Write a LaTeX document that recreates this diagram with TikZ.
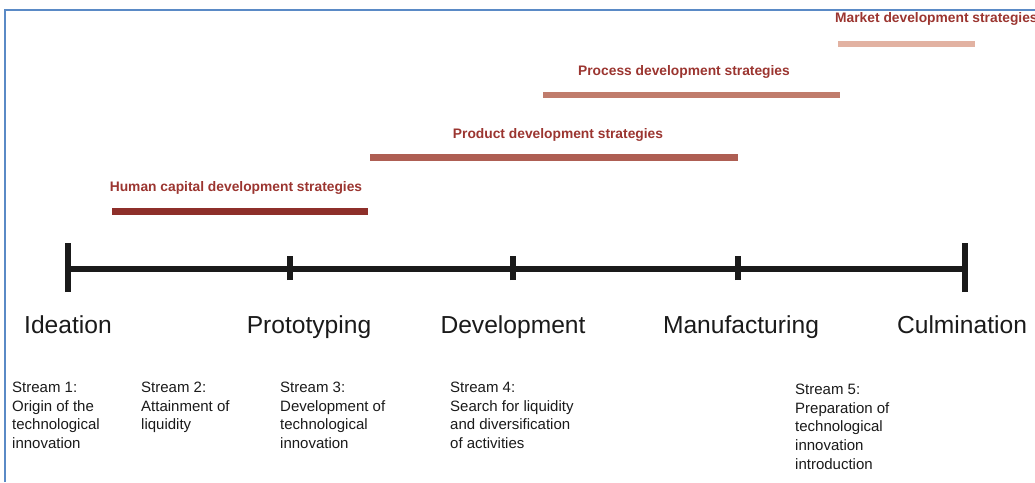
\documentclass[tikz,border=0pt]{standalone}
\usepackage{fontspec}
\setmainfont{Liberation Sans}
\definecolor{frameblue}{HTML}{5A8AC6}
\definecolor{titlered}{HTML}{9B3530}
\definecolor{barA}{HTML}{8E2F2A}
\definecolor{barB}{HTML}{AE5E53}
\definecolor{barC}{HTML}{C07C6C}
\definecolor{barD}{HTML}{E2B2A2}
\definecolor{axis}{HTML}{1A1A1A}
\begin{document}
\begin{tikzpicture}[x=1pt,y=-1pt,
  bar/.style={line width=7pt},
  title/.style={text=titlered,font=\fontsize{13.8}{15}\selectfont\bfseries,inner sep=0pt,anchor=base},
  phase/.style={font=\fontsize{24.6}{27}\selectfont,inner sep=0pt,anchor=base,text=axis},
  stream/.style={font=\fontsize{15}{18.6}\selectfont,inner sep=0pt,anchor=north west,align=left,text=axis},
  axisline/.style={line width=5.5pt,draw=axis},
  bigtick/.style={line width=5.5pt,draw=axis},
  smalltick/.style={line width=5.5pt,draw=axis}]
\useasboundingbox (0,0) rectangle (1035,482);
% frame
\draw[frameblue,line width=1.8pt] (5,482) -- (5,10) -- (1036,10);
% timeline coordinates
\coordinate (t0) at (68,269);
\coordinate (t1) at (290,269);
\coordinate (t2) at (513,269);
\coordinate (t3) at (738,269);
\coordinate (t4) at (965,269);
\draw[axisline] (t0) -- (t4);
\draw[bigtick] ([yshift=-23pt]t0) -- ([yshift=26pt]t0);
\draw[bigtick] ([yshift=-23pt]t4) -- ([yshift=26pt]t4);
\foreach \c in {t1,t2,t3}{\draw[smalltick] ([yshift=-11pt]\c) -- ([yshift=13pt]\c);}
% bars
\coordinate (a1) at (112,211); \coordinate (a2) at (368,211);
\coordinate (b1) at (370,157); \coordinate (b2) at (738,157);
\coordinate (c1) at (543,95);  \coordinate (c2) at (840,95);
\coordinate (d1) at (838,44);  \coordinate (d2) at (975,44);
\draw[bar,barA] (a1) -- (a2);
\draw[bar,barB] (b1) -- (b2);
\draw[bar,barC,line width=6.5pt] (c1) -- (c2);
\draw[bar,barD,line width=6.5pt] (d1) -- (d2);
% titles
\node[title] (ta) at (236,191) {Human capital development strategies};
\node[title] (tb) at (558,138) {Product development strategies};
\node[title] (tc) at (684,75) {Process development strategies};
\node[title,anchor=base west] (td) at (835,22) {Market development strategies};
% phases
\node[phase] (p0) at (68,333) {Ideation};
\node[phase] (p1) at (309,333) {Prototyping};
\node[phase] (p2) at (513,333) {Development};
\node[phase] (p3) at (741,333) {Manufacturing};
\node[phase] (p4) at (962,333) {Culmination};
% streams
\node[stream] (s1) at (12,382) {Stream 1:\\Origin of the\\technological\\innovation};
\node[stream] (s2) at (141,382) {Stream 2:\\Attainment of\\liquidity};
\node[stream] (s3) at (280,382) {Stream 3:\\Development of\\technological\\innovation};
\node[stream] (s4) at (450,382) {Stream 4:\\Search for liquidity\\and diversification\\of activities};
\node[stream] (s5) at (795,384) {Stream 5:\\Preparation of\\technological\\innovation\\introduction};
\end{tikzpicture}
\end{document}
